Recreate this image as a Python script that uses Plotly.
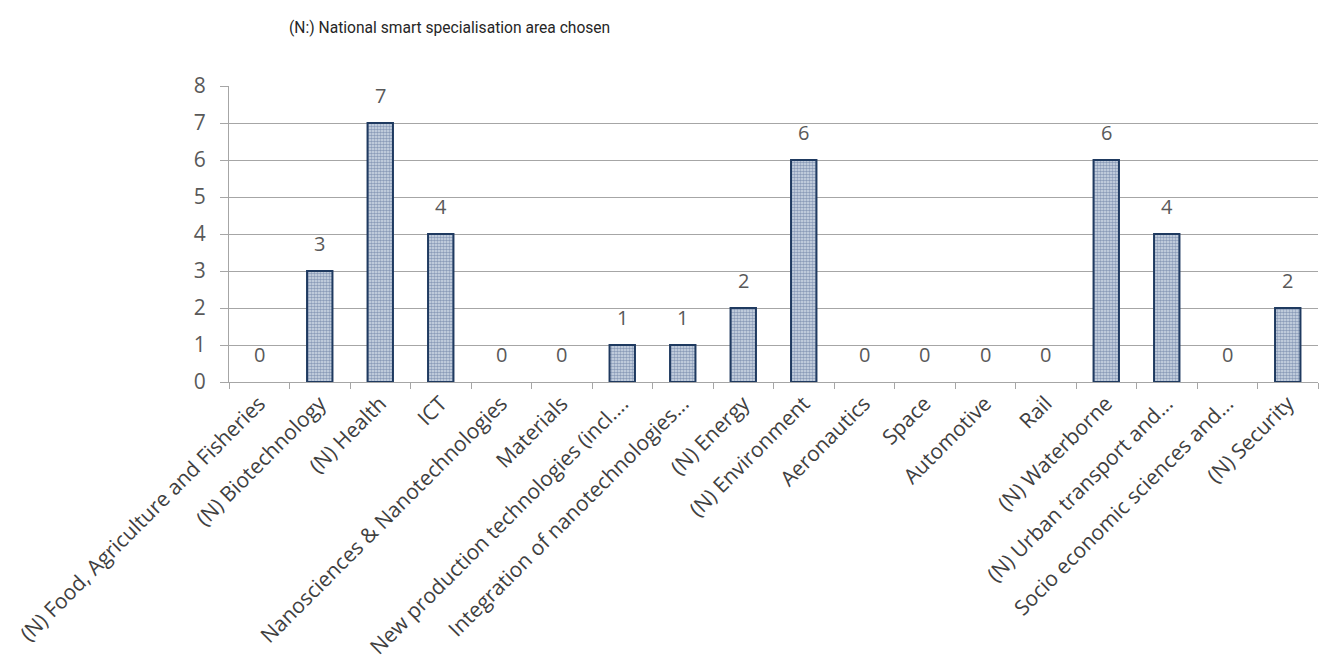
import plotly.graph_objects as go

categories = [
    "(N) Food, Agriculture and Fisheries",
    "(N) Biotechnology",
    "(N) Health",
    "ICT",
    "Nanosciences & Nanotechnologies",
    "Materials",
    "New production technologies (incl....",
    "Integration of nanotechnologies...",
    "(N) Energy",
    "(N) Environment",
    "Aeronautics",
    "Space",
    "Automotive",
    "Rail",
    "(N) Waterborne",
    "(N) Urban transport and...",
    "Socio economic sciences and...",
    "(N) Security",
]
values = [0, 3, 7, 4, 0, 0, 1, 1, 2, 6, 0, 0, 0, 0, 6, 4, 0, 2]
y_ticks = [0, 1, 2, 3, 4, 5, 6, 7, 8]
title_text = "(N:) National smart specialisation area chosen"

FONT = "Open Sans, DejaVu Sans, sans-serif"

fig = go.Figure()
fig.add_trace(go.Bar(
    x=categories,
    y=values,
    width=0.42,
    marker=dict(
        color="#7d90b0",
        line=dict(color="#1f3a60", width=[0 if v == 0 else 2 for v in values]),
        pattern=dict(shape=".", size=3, solidity=0.6, fgcolor="#3f5a85", bgcolor="#d6deea"),
    ),
    hoverinfo="skip",
))

for c, v in zip(categories, values):
    fig.add_annotation(
        x=c, y=v, text=str(v), showarrow=False,
        yanchor="bottom", yshift=12,
        font=dict(family=FONT, size=20, color="#595959"),
    )

plot_w = 1319 - 229 - 1
plot_h = 664 - 86 - 282
title_x_px, title_y_px = 287, 28
fig.add_annotation(
    x=(title_x_px - 229) / plot_w,
    y=(664 - 282 - title_y_px) / plot_h,
    xref="paper", yref="paper", text=title_text, showarrow=False,
    xanchor="left", yanchor="middle",
    font=dict(family="Roboto, sans-serif", size=15.6, color="#262626"),
)

fig.update_layout(
    width=1319, height=664,
    margin=dict(l=229, r=1, t=86, b=282),
    paper_bgcolor="white", plot_bgcolor="white",
    showlegend=False,
    xaxis=dict(
        type="category",
        tickangle=-45,
        ticks="outside", ticklen=6, tickcolor="#a6a6a6", tickson="boundaries",
        showline=True, linecolor="#a6a6a6", linewidth=1,
        showgrid=False,
        tickfont=dict(family=FONT, size=21, color="#404040"),
    ),
    yaxis=dict(
        range=[0, 8],
        tickvals=y_ticks,
        ticks="outside", ticklen=8, tickcolor="#a6a6a6",
        showgrid=True, gridcolor="#a6a6a6", gridwidth=1,
        showline=True, linecolor="#a6a6a6", linewidth=1, zeroline=False,
        ticklabelstandoff=10,
        tickfont=dict(family=FONT, size=21, color="#595959"),
    ),
)

fig.write_html("out.html")
